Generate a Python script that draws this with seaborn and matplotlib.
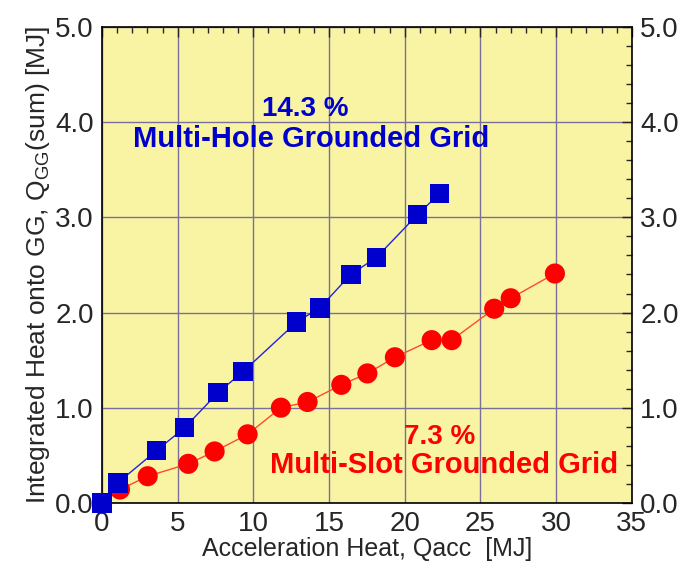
import matplotlib
matplotlib.use('Agg')
import matplotlib.pyplot as plt
import seaborn as sns
from matplotlib.ticker import MultipleLocator, FormatStrFormatter

# Multi-Hole grounded grid (blue squares)
hole_qacc = [0.0, 1.04, 3.61, 5.46, 7.68, 9.33, 12.86, 14.4, 16.43, 18.14, 20.85, 22.3]
hole_qgg = [0.0, 0.21, 0.55, 0.79, 1.16, 1.38, 1.90, 2.05, 2.40, 2.58, 3.03, 3.25]

# Multi-Slot grounded grid (red circles)
slot_qacc = [0.0, 1.19, 3.02, 5.70, 7.44, 9.62, 11.82, 13.58, 15.81, 17.53, 19.35,
             21.78, 23.1, 25.91, 27.0, 29.92]
slot_qgg = [0.0, 0.14, 0.28, 0.41, 0.54, 0.72, 1.00, 1.06, 1.24, 1.36, 1.53,
            1.71, 1.71, 2.04, 2.15, 2.41]

sns.set_style('white')
plt.rcParams['font.family'] = ['Liberation Sans', 'DejaVu Sans']
plt.rcParams['mathtext.fontset'] = 'custom'
plt.rcParams['mathtext.rm'] = 'Liberation Sans'

fig = plt.figure(figsize=(6.89, 5.76), dpi=100)
ax = fig.add_axes([0.148, 0.127, 0.769, 0.826])
ax.set_facecolor('#f8f4a4')

sns.lineplot(x=slot_qacc, y=slot_qgg, ax=ax, color='#ff4a2a', lw=1, sort=False, zorder=3)
sns.scatterplot(x=slot_qacc, y=slot_qgg, ax=ax, color='#ff0000', marker='o', s=210,
                edgecolor='none', zorder=4, clip_on=False)
sns.lineplot(x=hole_qacc, y=hole_qgg, ax=ax, color='#2222dd', lw=1, sort=False, zorder=5)
sns.scatterplot(x=hole_qacc, y=hole_qgg, ax=ax, color='#0000cc', marker='s', s=200,
                edgecolor='none', zorder=6, clip_on=False)

ax.set_xlim(0, 35)
ax.set_ylim(0, 5)
ax.xaxis.set_major_locator(MultipleLocator(5))
ax.xaxis.set_minor_locator(MultipleLocator(1))
ax.yaxis.set_major_locator(MultipleLocator(1))
ax.yaxis.set_minor_locator(MultipleLocator(0.2))
ax.yaxis.set_major_formatter(FormatStrFormatter('%.1f'))
ax.grid(True, which='major', color='#7a6f9a', lw=1)
ax.set_axisbelow(True)
ax.tick_params(which='both', direction='in', top=True, right=True, labelright=True,
               labelsize=20, pad=6)
ax.tick_params(which='major', length=7, width=1)
ax.tick_params(which='minor', length=4, width=1)
for s in ax.spines.values():
    s.set_color('black')
    s.set_linewidth(1.2)

ax.set_xlabel('Acceleration Heat, Qacc  [MJ]', fontsize=18, labelpad=0)
ax.set_ylabel(r'Integrated Heat onto GG, Q$_{\mathrm{GG}}$(sum) [MJ]', fontsize=19, labelpad=2)

ax.text(13.4, 4.14, '14.3 %', color='#0000cc', fontsize=20, fontweight='bold', ha='center', va='center')
ax.text(13.8, 3.82, 'Multi-Hole Grounded Grid', color='#0000cc', fontsize=21, fontweight='bold',
        ha='center', va='center')
ax.text(22.3, 0.69, '7.3 %', color='#ff0000', fontsize=20, fontweight='bold', ha='center', va='center')
ax.text(22.6, 0.40, 'Multi-Slot Grounded Grid', color='#ff0000', fontsize=21, fontweight='bold',
        ha='center', va='center')

fig.savefig('out.png', dpi=100)
